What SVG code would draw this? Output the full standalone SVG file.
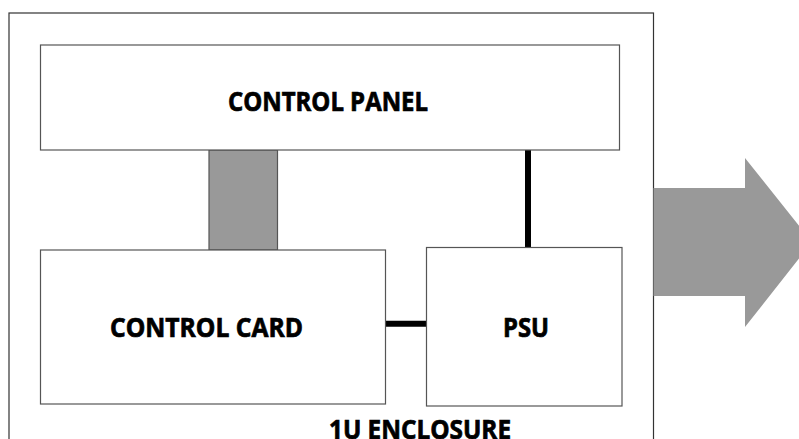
<svg xmlns="http://www.w3.org/2000/svg" width="799" height="439" viewBox="0 0 799 439">
<style>
.box{fill:#fff;stroke:#555;stroke-width:1.2}
.lbl{font-family:"Open Sans","DejaVu Sans",sans-serif;font-weight:bold;font-size:26px;fill:#000;stroke:#000;stroke-width:0.7;text-anchor:middle}
.wire{stroke:#000;stroke-width:6;fill:none}
</style>
<rect width="799" height="439" fill="#fff"/>
<g id="enclosure">
<rect x="9" y="13" width="644.5" height="440" fill="#fff" stroke="#333" stroke-width="1.2"/>
<text class="lbl" x="420" y="438.5" textLength="182" lengthAdjust="spacingAndGlyphs">1U ENCLOSURE</text>
</g>
<g id="arrow">
<polygon points="653.5,188 745,188 745,158 812,242 745,327 745,296 653.5,296" fill="#999"/>
</g>
<g id="connectors">
<rect x="209" y="150" width="68.5" height="100" fill="#999" stroke="#555" stroke-width="1.2"/>
<line class="wire" x1="528" y1="150" x2="528" y2="247.5"/>
<line class="wire" x1="385.5" y1="323.7" x2="426.5" y2="323.7"/>
</g>
<g id="control-panel">
<rect class="box" x="40.5" y="45" width="579" height="105"/>
<text class="lbl" x="328" y="110.7" textLength="200" lengthAdjust="spacingAndGlyphs">CONTROL PANEL</text>
</g>
<g id="control-card">
<rect class="box" x="40.5" y="250" width="345" height="154"/>
<text class="lbl" x="206.5" y="336.7" textLength="193" lengthAdjust="spacingAndGlyphs">CONTROL CARD</text>
</g>
<g id="psu">
<rect class="box" x="426.5" y="247.5" width="195.5" height="158.5"/>
<text class="lbl" x="526" y="337" textLength="46" lengthAdjust="spacingAndGlyphs">PSU</text>
</g>
</svg>
